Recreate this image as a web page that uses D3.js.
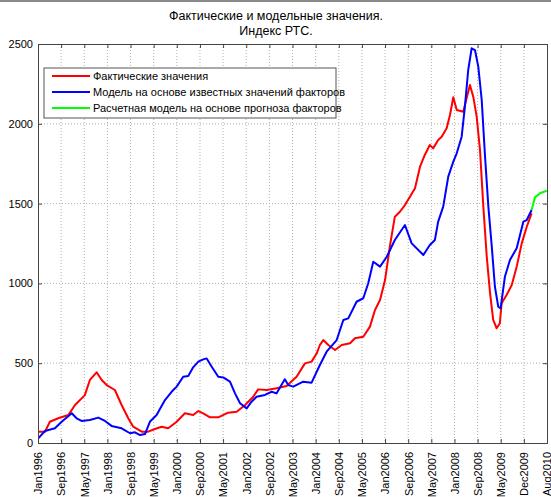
<!DOCTYPE html>
<html>
<head>
<meta charset="utf-8">
<script src="https://cdn.jsdelivr.net/npm/d3@7"></script>
<style>
  body { margin: 0; background: #fff; }
  svg { display: block; font-family: "Liberation Sans", Arial, sans-serif; }
</style>
</head>
<body>
<div id="chart"></div>
<script>
// Фактические значения (red)
const factDates = ["1996-01-24","1996-04-03","1996-05-25","1996-08-21","1996-12-05","1997-02-14","1997-05-28","1997-07-20","1997-09-29","1997-11-21",
  "1998-01-13","1998-04-09","1998-06-19","1998-08-28","1998-10-19","1999-01-16","1999-03-25","1999-06-04","1999-08-14","1999-10-22",
  "2000-01-19","2000-04-15","2000-07-11","2000-09-03","2000-10-25","2001-01-04","2001-04-01","2001-07-14","2001-10-12","2002-01-08",
  "2002-04-04","2002-05-26","2002-08-23","2002-12-06","2003-03-20","2003-07-04","2003-09-30","2003-12-09","2004-02-01","2004-03-05",
  "2004-04-10","2004-06-02","2004-08-11","2004-10-21","2005-01-17","2005-03-09","2005-06-05","2005-08-14","2005-10-06","2005-11-28",
  "2006-01-20","2006-03-11","2006-05-03","2006-06-25","2006-08-17","2006-10-09","2006-12-01","2007-01-23","2007-03-14","2007-05-06",
  "2007-06-10","2007-08-02","2007-09-08","2007-10-30","2007-12-04","2008-01-08","2008-02-13","2008-04-22","2008-05-27","2008-07-01",
  "2008-08-05","2008-09-10","2008-10-15","2008-11-19","2008-12-25","2009-01-29","2009-03-03","2009-04-08","2009-05-12","2009-05-30",
  "2009-07-22","2009-09-14","2009-11-05","2009-12-28","2010-02-19","2010-04-11"];
const factValues = [70,70,133,155,175,238,300,395,443,395,
  363,332,238,155,102,71,71,88,102,92,
  133,186,175,200,186,161,161,190,196,238,
  290,336,332,343,357,415,499,510,562,614,
  645,614,583,614,625,656,666,729,833,896,
  1021,1230,1418,1449,1491,1543,1596,1731,1805,1867,
  1846,1898,1919,1972,2055,2166,2086,2076,2160,2243,
  2170,2045,1836,1481,1167,938,771,719,750,875,
  927,990,1105,1251,1355,1439];

// Модель на основе известных значений факторов (blue)
const modelDates = ["1996-01-24","1996-04-03","1996-07-17","1996-09-26","1997-01-10","1997-03-02","1997-04-24","1997-07-20","1997-10-16","1997-12-26",
  "1998-03-05","1998-06-19","1998-09-15","1998-11-07","1998-12-29","1999-02-20","1999-04-12","1999-06-22","1999-09-18","1999-11-27",
  "2000-01-19","2000-03-28","2000-05-20","2000-07-11","2000-09-03","2000-10-25","2000-11-30","2001-01-22","2001-04-01","2001-05-23",
  "2001-08-02","2001-09-24","2001-11-16","2002-01-25","2002-03-17","2002-05-09","2002-08-05","2002-10-15","2002-12-06","2003-03-02",
  "2003-04-07","2003-05-29","2003-09-12","2003-12-09","2004-03-05","2004-05-15","2004-08-29","2004-11-07","2004-12-29","2005-03-26",
  "2005-06-05","2005-07-27","2005-09-18","2005-11-28","2006-02-07","2006-05-03","2006-08-17","2006-10-27","2007-02-27","2007-05-06",
  "2007-06-28","2007-08-02","2007-09-24","2007-11-16","2008-01-08","2008-02-13","2008-04-05","2008-05-09","2008-06-13","2008-07-19",
  "2008-08-23","2008-09-27","2008-11-02","2008-12-07","2009-01-11","2009-02-16","2009-03-21","2009-04-25","2009-05-20","2009-07-04",
  "2009-08-26","2009-11-05","2010-01-14","2010-02-19","2010-04-11"];
const modelValues = [29,75,92,133,186,155,138,144,159,138,
  107,92,61,67,50,56,133,175,269,321,
  353,415,420,474,510,524,530,478,415,411,
  384,311,249,217,259,290,301,321,311,399,
  363,353,384,378,489,572,645,771,781,885,
  907,1001,1136,1105,1167,1272,1366,1251,1178,1241,
  1272,1387,1481,1669,1763,1815,1919,2107,2337,2473,
  2462,2358,2149,1794,1481,1230,979,854,844,1042,
  1147,1220,1387,1397,1460];

// Расчетная модель на основе прогноза факторов (green)
const forecastDates = ["2010-04-11","2010-05-16","2010-07-08","2010-09-17"];
const forecastValues = [1460,1539,1565,1581];

const tickLabels = ["Jan1996","Sep1996","May1997","Jan1998","Sep1998","May1999","Jan2000","Sep2000","May2001","Jan2002","Sep2002","May2003",
  "Jan2004","Sep2004","May2005","Jan2006","Sep2006","May2007","Jan2008","Sep2008","May2009","Dec2009","Aug2010"];
const yTicks = [0, 500, 1000, 1500, 2000, 2500];
const seriesNames = ["Фактические значения", "Модель на основе известных значений факторов", "Расчетная модель на основе прогноза факторов"];
const seriesColors = ["#ff0000", "#0000ff", "#00ff00"];

const margin = { top: 44, right: 4, bottom: 54, left: 38 };
const W = 551, H = 497;
const width = W - margin.left - margin.right;
const height = H - margin.top - margin.bottom;

const parse = d3.timeParse("%Y-%m-%d");
const zip = (ds, vs) => ds.map((d, i) => ({ date: parse(d), value: vs[i] }));
const series = [zip(factDates, factValues), zip(modelDates, modelValues), zip(forecastDates, forecastValues)];

const root = d3.select("#chart").append("svg").attr("width", W).attr("height", H);
root.append("rect").attr("x", 0).attr("y", 0).attr("width", W).attr("height", 2).attr("fill", "#8a8a8a");

const svg = root.append("g").attr("transform", `translate(${margin.left},${margin.top})`);

const x = d3.scaleTime()
  .domain([new Date(1996, 0, 21), new Date(2010, 8, 20)])
  .range([0, width]);
const y = d3.scaleLinear().domain([0, 2500]).range([height, 0]);

const tickDates = tickLabels.map((l, i) => x.invert(i * width / (tickLabels.length - 1)));
const labelOf = new Map(tickDates.map((d, i) => [+d, tickLabels[i]]));

// grid
svg.append("g").selectAll("line").data(tickDates.slice(1, -1)).enter().append("line")
  .attr("x1", d => x(d)).attr("x2", d => x(d))
  .attr("y1", 0).attr("y2", height)
  .attr("stroke", "#b0b0b0").attr("stroke-dasharray", "1,2");
svg.append("g").selectAll("line").data(yTicks.slice(1, -1)).enter().append("line")
  .attr("y1", d => y(d)).attr("y2", d => y(d))
  .attr("x1", 0).attr("x2", width)
  .attr("stroke", "#b0b0b0").attr("stroke-dasharray", "1,2");

// lines
const line = d3.line().x(d => x(d.date)).y(d => y(d.value));
svg.append("defs").append("clipPath").attr("id", "clip")
  .append("rect").attr("width", width).attr("height", height);
series.forEach((s, i) => {
  svg.append("path")
    .datum(s)
    .attr("clip-path", "url(#clip)")
    .attr("fill", "none")
    .attr("stroke", seriesColors[i])
    .attr("stroke-width", 2)
    .attr("stroke-linejoin", "round")
    .attr("d", line);
});

// axes (MATLAB style: ticks inside, box on)
const axisColor = "#444";
const xb = svg.append("g").attr("transform", `translate(0,${height})`)
  .call(d3.axisBottom(x).tickValues(tickDates).tickSize(-4).tickFormat(d => labelOf.get(+d)));
xb.selectAll("text")
  .attr("transform", "rotate(-90)")
  .attr("x", -9).attr("y", 0).attr("dy", "0.35em")
  .style("text-anchor", "end");
const xt = svg.append("g").call(d3.axisTop(x).tickValues(tickDates).tickSize(-4).tickFormat(""));
const yl = svg.append("g").call(d3.axisLeft(y).tickValues(yTicks).tickSize(-4).tickFormat(d3.format("d")));
yl.selectAll("text").attr("x", -5);
const yr = svg.append("g").attr("transform", `translate(${width},0)`)
  .call(d3.axisRight(y).tickValues(yTicks).tickSize(-4).tickFormat(""));
[xb, xt, yl, yr].forEach(g => {
  g.select(".domain").attr("stroke", axisColor);
  g.selectAll(".tick line").attr("stroke", axisColor);
  g.selectAll("text").attr("fill", "#000").style("font-size", "11px").style("font-family", "Liberation Sans, Arial, sans-serif");
});

// title
const title = root.append("text").attr("x", 276).attr("text-anchor", "middle")
  .style("font-size", "12.5px").attr("fill", "#000");
title.append("tspan").attr("x", 276).attr("y", 20).text("Фактические и модельные значения.");
title.append("tspan").attr("x", 276).attr("y", 35).text("Индекс РТС.");

// legend
const legend = svg.append("g").attr("transform", "translate(6,24)");
legend.append("rect").attr("width", 292).attr("height", 50)
  .attr("fill", "#fff").attr("stroke", "#555");
seriesNames.forEach((n, i) => {
  legend.append("line")
    .attr("x1", 8).attr("x2", 46).attr("y1", 8 + i * 16).attr("y2", 8 + i * 16)
    .attr("stroke", seriesColors[i]).attr("stroke-width", 2);
  legend.append("text")
    .attr("x", 49).attr("y", 12 + i * 16)
    .style("font-size", "11px").attr("fill", "#000")
    .text(n);
});
</script>
</body>
</html>
